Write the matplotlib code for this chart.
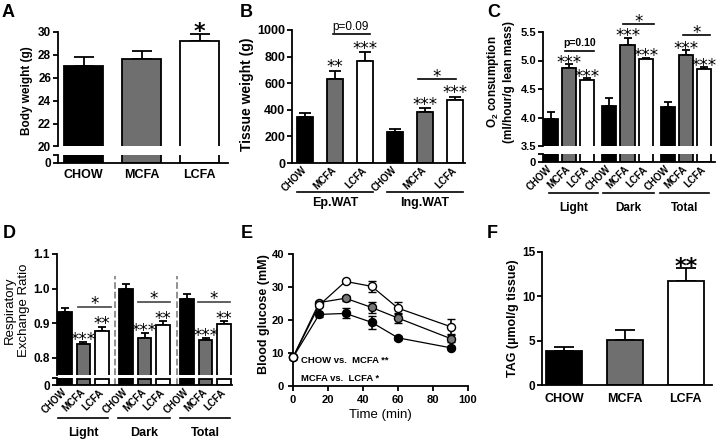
import numpy as np
import matplotlib
matplotlib.use('Agg')
import matplotlib.pyplot as plt
import matplotlib.transforms as mtransforms

plt.rcParams['font.family'] = ['Liberation Sans', 'DejaVu Sans']
plt.rcParams['font.weight'] = 'bold'
plt.rcParams['mathtext.fontset'] = 'custom'
plt.rcParams['mathtext.rm'] = 'Liberation Sans:bold'
plt.rcParams['mathtext.default'] = 'rm'

# ---- data ----
groups = ['CHOW', 'MCFA', 'LCFA']
bar_colors = ['black', '#6f6f6f', 'white']

# A body weight (g)
body_weight = [27.0, 27.65, 29.25]
body_weight_err = [0.8, 0.7, 0.6]

# B tissue weight (g)
tissue_sets = ['Ep.WAT', 'Ing.WAT']
ep_wat = [345, 630, 767]
ep_wat_err = [30, 65, 65]
ing_wat = [233, 386, 470]
ing_wat_err = [22, 26, 28]

# C O2 consumption
periods = ['Light', 'Dark', 'Total']
o2_light = [3.98, 4.86, 4.65]
o2_light_err = [0.12, 0.08, 0.04]
o2_dark = [4.20, 5.28, 5.02]
o2_dark_err = [0.14, 0.12, 0.03]
o2_total = [4.19, 5.09, 4.85]
o2_total_err = [0.08, 0.09, 0.03]

# D respiratory exchange ratio
rer_light = [0.932, 0.841, 0.877]
rer_light_err = [0.011, 0.004, 0.013]
rer_dark = [0.998, 0.857, 0.894]
rer_dark_err = [0.014, 0.014, 0.011]
rer_total = [0.969, 0.851, 0.897]
rer_total_err = [0.015, 0.006, 0.008]

# E glucose tolerance
time_min = [0, 15, 30, 45, 60, 90]
gluc_chow = [8.6, 21.6, 21.9, 19.2, 14.5, 11.5]
gluc_chow_err = [0.5, 0.8, 1.5, 2.0, 0.6, 0.5]
gluc_mcfa = [8.6, 25.2, 26.5, 23.7, 20.5, 14.3]
gluc_mcfa_err = [0.5, 0.6, 0.8, 1.6, 1.4, 1.1]
gluc_lcfa = [8.6, 24.4, 31.6, 30.1, 23.5, 17.9]
gluc_lcfa_err = [0.5, 0.7, 0.5, 1.7, 1.9, 2.2]

# F liver TAG
tag = [3.83, 5.05, 11.7]
tag_err = [0.4, 1.15, 1.45]

W, H = 718, 442
fig = plt.figure(figsize=(W / 100, H / 100), dpi=100)
LW = 1.3


def px_axes(l, t, r, b):
    return fig.add_axes([l / W, 1 - b / H, (r - l) / W, (b - t) / H])


def style(ax, fs):
    ax.spines['top'].set_visible(False)
    ax.spines['right'].set_visible(False)
    ax.spines['left'].set_linewidth(LW)
    ax.spines['bottom'].set_linewidth(LW)
    ax.tick_params(width=LW, length=3.5, labelsize=fs, pad=1.5)
    ax.patch.set_alpha(0)


def broken(l, t, r, b, lt, lb, ylim, yticks, fs):
    top = px_axes(l, t, r, b)
    low = px_axes(l, lt, r, lb)
    style(top, fs)
    style(low, fs)
    top.spines['bottom'].set_visible(False)
    top.tick_params(axis='x', bottom=False, labelbottom=False)
    top.set_ylim(*ylim)
    top.set_yticks(yticks)
    low.set_ylim(0, 1)
    low.set_yticks([0, 1])
    low.set_yticklabels(['0', ''])
    return top, low


def bars(axs, x, vals, errs, width, cap):
    for ax in axs:
        ax.bar(x, vals, width, color=bar_colors * (len(x) // 3),
               edgecolor='k', linewidth=LW, zorder=2)
    axs[0].errorbar(x, vals, yerr=[np.zeros(len(errs)), errs], fmt='none',
                    ecolor='k', elinewidth=LW, capsize=cap, capthick=LW, zorder=1)


def rot_labels(ax, x, labels):
    ax.set_xticks(x)
    ax.set_xticklabels(labels, rotation=45, ha='right', va='center',
                       rotation_mode='anchor', fontsize=7)
    ax.tick_params(axis='x', length=0, pad=4)


def star(ax, x, y, s, dy_px, fs=12, weight='normal'):
    ax.annotate(s, (x, y), xytext=(0, dy_px * 0.72), textcoords='offset points',
                ha='center', va='baseline', fontsize=fs, fontweight=weight,
                family='DejaVu Sans', annotation_clip=False)


def bracket(ax, x0, x1, y, color='k'):
    ax.plot([x0, x1], [y, y], color=color, lw=1.2, clip_on=False)


def group_line(ax, x0, x1, ypx, label, ytxt, fs):
    tr = mtransforms.blended_transform_factory(ax.transData, fig.transFigure)
    ax.plot([x0, x1], [1 - ypx / H] * 2, color='k', lw=1.2, transform=tr, clip_on=False)
    ax.text((x0 + x1) / 2, 1 - ytxt / H, label, transform=tr, ha='center',
            va='center', fontsize=fs, fontweight='bold')


def letter(xpx, ypx, s):
    fig.text(xpx / W, 1 - ypx / H, s, fontsize=13, fontweight='bold', va='baseline')


def ylab(xpx, ypx, s, fs, weight='bold', ls=1.2):
    fig.text(xpx / W, 1 - ypx / H, s, rotation=90, ha='center', va='center',
             fontsize=fs, fontweight=weight, linespacing=ls)


# ---------- A ----------
xa = np.arange(3)
axA, axA0 = broken(58, 32, 228, 146.5, 155, 162.5, (20, 30), [20, 22, 24, 26, 28, 30], 8.5)
for ax in (axA, axA0):
    ax.set_xlim(-0.44, 2.49)
bars([axA, axA0], xa, body_weight, body_weight_err, 0.67, 7)
axA0.set_xticks(xa)
axA0.set_xticklabels(groups, fontsize=9)
axA0.tick_params(axis='x', length=0, pad=5)
star(axA, xa[2], body_weight[2] + body_weight_err[2], '*', -4.3, fs=16, weight='bold')
ylab(27, 91, 'Body weight (g)', 8.5)
letter(2, 17, 'A')

# ---------- B ----------
xb = np.arange(6)
b_vals = ep_wat + ing_wat
b_errs = ep_wat_err + ing_wat_err
axB = px_axes(292, 30, 465, 163)
style(axB, 9)
axB.set_xlim(-0.43, 5.33)
axB.set_ylim(0, 1000)
axB.set_yticks(range(0, 1001, 200))
bars([axB], xb, b_vals, b_errs, 0.53, 4)
rot_labels(axB, xb, groups * 2)
for i, s in zip([1, 2, 4, 5], ['**', '***', '***', '***']):
    star(axB, xb[i], b_vals[i] + b_errs[i], s, -1.5)
bracket(axB, 0.93, 2.17, 970)
axB.text(1.53, 1024, 'p=0.09', ha='center', va='center', fontsize=8.5, fontweight='normal')
bracket(axB, 3.77, 5.03, 632)
star(axB, 4.39, 632, '*', -3)
group_line(axB, -0.27, 2.27, 192, tissue_sets[0], 203, 9)
group_line(axB, 2.73, 5.27, 192, tissue_sets[1], 203, 9)
ylab(247, 94, 'Tissue weight (g)', 10)
letter(240, 17, 'B')

# ---------- C ----------
xc = np.concatenate([np.arange(3) + off for off in (0, 3.2, 6.4)])
c_vals = o2_light + o2_dark + o2_total
c_errs = o2_light_err + o2_dark_err + o2_total_err
axC, axC0 = broken(543, 32, 715, 146, 154, 162, (3.5, 5.5), [3.5, 4.0, 4.5, 5.0, 5.5], 8)
axC.yaxis.set_major_formatter(matplotlib.ticker.FormatStrFormatter('%.1f'))
for ax in (axC, axC0):
    ax.set_xlim(-0.42, 8.98)
bars([axC, axC0], xc, c_vals, c_errs, 0.77, 3.2)
rot_labels(axC0, xc, groups * 3)
for i in [1, 2, 4, 5, 7, 8]:
    star(axC, xc[i], c_vals[i] + c_errs[i], '***', -3.8)
bracket(axC, 0.78, 2.37, 5.16)
axC.text(1.57, 5.31, 'p=0.10', ha='center', va='center', fontsize=7.5)
bracket(axC, 3.97, 5.65, 5.64)
star(axC, 4.81, 5.64, '*', -2.5)
bracket(axC, 7.25, 8.7, 5.453)
star(axC, 7.97, 5.453, '*', -3)
cx = [(-0.09, 2.58), (2.86, 5.65), (5.98, 8.66)]
for (x0, x1), p in zip(cx, periods):
    group_line(axC0, x0, x1, 193, p, 208, 8.5)
ylab(500, 82, 'O$_2$ consumption\n(ml/hour/g lean mass)', 8.5, ls=1.25)
letter(487, 17, 'C')

# ---------- D ----------
xd = np.concatenate([np.arange(3) + off for off in (0, 3.3, 6.6)])
d_vals = rer_light + rer_dark + rer_total
d_errs = rer_light_err + rer_dark_err + rer_total_err
axD, axD0 = broken(57, 254, 232, 375, 378, 385, (0.75, 1.1), [0.8, 0.9, 1.0, 1.1], 8.5)
for ax in (axD, axD0):
    ax.set_xlim(-0.43, 9.03)
bars([axD, axD0], xd, d_vals, d_errs, 0.72, 3)
for xv in (2.7, 6.05):
    axD.plot([xv, xv], [0.75, 1.035], ls='--', color='#888888', lw=1.3, zorder=1)
    axD0.plot([xv, xv], [0, 1], ls='--', color='#888888', lw=1.3, zorder=1)
rot_labels(axD0, xd, groups * 3)
for i in [1, 4, 7]:
    star(axD, xd[i], d_vals[i] + d_errs[i], '***', -2.9)
for i in [2, 5, 8]:
    star(axD, xd[i], d_vals[i] + d_errs[i], '**', -2.9)
for x0, x1, yv in [(0.72, 2.47, 0.947), (3.95, 5.68, 0.962), (7.2, 8.9, 0.962)]:
    bracket(axD, x0, x1, yv, color='#444444')
    star(axD, (x0 + x1) / 2, yv, '*', -2.6)
dx = [(-0.38, 2.32), (2.86, 5.68), (6.21, 8.92)]
for (x0, x1), p in zip(dx, periods):
    group_line(axD0, x0, x1, 418, p, 433, 9)
ylab(17, 310, 'Respiratory\nExchange Ratio', 9.5, weight='normal', ls=1.15)
letter(3, 238, 'D')

# ---------- E ----------
axE = px_axes(293, 253.7, 468, 385.7)
style(axE, 8)
axE.tick_params(pad=3)
axE.set_xlim(0, 100)
axE.set_ylim(0, 40)
axE.set_xticks(range(0, 101, 20))
axE.set_yticks(range(0, 41, 10))
for vals, errs, fc in [(gluc_chow, gluc_chow_err, 'black'),
                       (gluc_mcfa, gluc_mcfa_err, '#777777'),
                       (gluc_lcfa, gluc_lcfa_err, 'white')]:
    axE.errorbar(time_min, vals, yerr=errs, color='k', lw=0.9, elinewidth=1.2,
                 capsize=3, capthick=1.2, marker='o', markersize=5.8,
                 markerfacecolor=fc, markeredgecolor='k', markeredgewidth=1.0,
                 clip_on=False, zorder=3)
axE.text(4.8, 7.6, 'CHOW vs.  MCFA **', fontsize=6.8, va='center')
axE.text(4.8, 2.3, 'MCFA vs.  LCFA *', fontsize=6.8, va='center')
axE.set_xlabel('Time (min)', fontsize=9.5, labelpad=3)
ylab(264, 314, 'Blood glucose (mM)', 9)
letter(241, 238, 'E')

# ---------- F ----------
xf = np.arange(3)
axF = px_axes(542, 252, 712, 385)
style(axF, 8.5)
axF.set_xlim(-0.36, 2.43)
axF.set_ylim(0, 15)
axF.set_yticks([0, 5, 10, 15])
bars([axF], xf, tag, tag_err, 0.6, 7)
axF.set_xticks(xf)
axF.set_xticklabels(groups, fontsize=9)
axF.tick_params(axis='x', length=0, pad=6)
star(axF, xf[2], tag[2] + tag_err[2], '**', -4.4, fs=16, weight='bold')
ylab(513, 318, 'TAG (µmol/g tissue)', 9)
letter(487, 238, 'F')

fig.savefig('out.png', dpi=100)
